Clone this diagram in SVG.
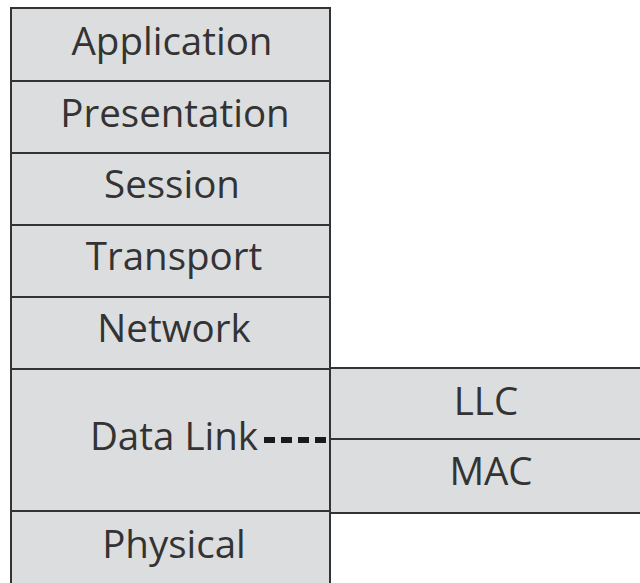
<svg xmlns="http://www.w3.org/2000/svg" width="640" height="583" viewBox="0 0 640 583">
<style>
.box{fill:#dcdddf;stroke:#333;stroke-width:2}
.t{font-family:"Open Sans",Lato,sans-serif;font-size:38.5px;font-weight:400;fill:#333;text-anchor:middle}
</style>
<rect width="640" height="583" fill="#fff"/>
<g id="application"><rect class="box" x="11" y="8" width="319" height="73"/><text class="t" x="172" y="55">Application</text></g>
<g id="presentation"><rect class="box" x="11" y="81" width="319" height="72"/><text class="t" x="175" y="127">Presentation</text></g>
<g id="session"><rect class="box" x="11" y="153" width="319" height="72"/><text class="t" x="172" y="198">Session</text></g>
<g id="transport"><rect class="box" x="11" y="225" width="319" height="72"/><text class="t" x="174" y="270">Transport</text></g>
<g id="network"><rect class="box" x="11" y="297" width="319" height="72"/><text class="t" x="174" y="342">Network</text></g>
<g id="datalink"><rect class="box" x="11" y="369" width="319" height="142"/><text class="t" x="174" y="450">Data Link</text></g>
<g id="physical"><rect class="box" x="11" y="511" width="319" height="80"/><text class="t" x="174" y="558">Physical</text></g>
<g id="llc"><rect class="box" x="330" y="368" width="320" height="71"/><text class="t" x="486" y="415">LLC</text></g>
<g id="mac"><rect class="box" x="330" y="439" width="320" height="74"/><text class="t" x="491" y="485">MAC</text></g>
<g id="connectors"><line x1="264" y1="440" x2="330" y2="440" stroke="#1a1a1a" stroke-width="6" stroke-dasharray="11 6"/></g>
</svg>
